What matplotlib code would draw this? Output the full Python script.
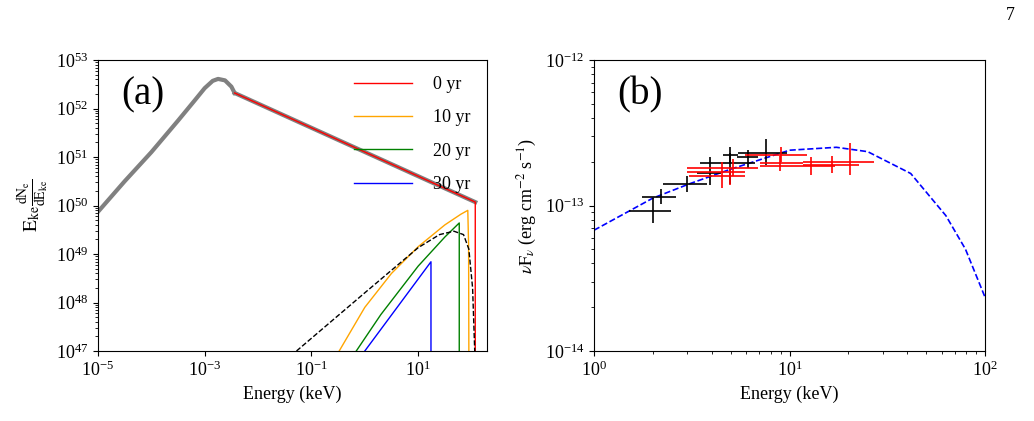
import numpy as np
import matplotlib
matplotlib.use("Agg")
import matplotlib.pyplot as plt

plt.rcParams['font.family'] = ['Liberation Serif', 'DejaVu Serif']
plt.rcParams['mathtext.fontset'] = 'stix'

# Panel (a): log10 energy / log10 value
gray_lx = [-5, -4.5, -4, -3.5, -3.2, -3.0, -2.85, -2.75, -2.62, -2.5, -2.44]
gray_ly = [49.87, 50.5, 51.1, 51.75, 52.15, 52.42, 52.57, 52.61, 52.58, 52.45, 52.32]
yr0_lx = [-2.44, 2.07, 2.07]
yr0_ly = [52.32, 50.07, 47.0]
orange_lx = [-0.48, 0.0, 0.5, 1.0, 1.5, 1.8, 1.93, 1.945, 1.95]
orange_ly = [47.0, 47.9, 48.6, 49.15, 49.6, 49.82, 49.9, 49.2, 47.0]
green_lx = [-0.16, 0.3, 1.0, 1.5, 1.77, 1.77]
green_ly = [47.0, 47.75, 48.75, 49.35, 49.64, 47.0]
blue_lx = [0.0, 1.24, 1.24]
blue_ly = [47.0, 48.84, 47.0]
dash_lx = [-1.28, 0.0, 1.0, 1.4, 1.67, 1.85, 1.95, 2.02, 2.06]
dash_ly = [47.0, 48.2, 49.13, 49.4, 49.47, 49.4, 49.1, 48.3, 47.0]

# Panel (b): model (log10 E, log10 flux)
model_lx = [0.0, 0.3, 0.49, 0.7, 1.0, 1.24, 1.4, 1.62, 1.8, 1.9, 2.0]
model_ly = [-13.17, -12.95, -12.85, -12.75, -12.62, -12.60, -12.63, -12.78, -13.07, -13.3, -13.63]

# data points: x, xlo, xhi, log y, log ylo, log yhi
blk_x = [2.0, 2.19, 2.98, 3.92, 4.96, 4.96, 6.14, 7.59]
blk_xlo = [1.51, 1.76, 2.25, 3.37, 3.48, 4.57, 5.40, 5.45]
blk_xhi = [2.48, 2.63, 3.78, 4.46, 6.66, 5.45, 6.88, 9.7]
blk_ly = [-13.036, -12.94, -12.85, -12.78, -12.71, -12.65, -12.67, -12.64]
blk_lylo = [-13.12, -12.99, -12.91, -12.86, -12.85, -12.71, -12.74, -12.72]
blk_lyhi = [-12.95, -12.89, -12.80, -12.67, -12.64, -12.60, -12.62, -12.54]

rd_x = [4.50, 5.15, 4.96, 8.93, 9.1, 12.9, 16.5, 20.5]
rd_xlo = [2.98, 2.98, 3.05, 7.07, 5.92, 7.07, 11.7, 11.7]
rd_xhi = [5.92, 6.88, 5.92, 11.7, 12.3, 17.0, 22.6, 27.0]
rd_ly = [-12.77, -12.74, -12.80, -12.71, -12.65, -12.73, -12.72, -12.70]
rd_lylo = [-12.88, -12.80, -12.86, -12.76, -12.70, -12.79, -12.78, -12.79]
rd_lyhi = [-12.70, -12.68, -12.74, -12.66, -12.60, -12.67, -12.66, -12.57]

fig = plt.figure(figsize=(10.34, 4.21), dpi=100)
ax1 = fig.add_axes([98/1034, 1-351/421, 389/1034, 291/421])
ax2 = fig.add_axes([594/1034, 1-351/421, 391/1034, 291/421])

p = lambda a: 10**np.array(a)
ax1.plot(p(gray_lx), p(gray_ly), color='gray', lw=3)
ax1.plot(p(yr0_lx[:2]), p(yr0_ly[:2]), color='gray', lw=3)
ax1.plot(p(yr0_lx), p(yr0_ly), color='red', lw=1, label='0 yr')
ax1.plot(p(orange_lx), p(orange_ly), color='orange', lw=1, label='10 yr')
ax1.plot(p(green_lx), p(green_ly), color='green', lw=1, label='20 yr')
ax1.plot(p(blue_lx), p(blue_ly), color='blue', lw=1, label='30 yr')
ax1.plot(p(dash_lx), p(dash_ly), color='black', lw=1, ls='--')
ax1.set_xscale('log'); ax1.set_yscale('log')
ax1.set_xlim(1e-5, 10**2.29); ax1.set_ylim(1e47, 1e53)
ax1.set_xticks([1e-5, 1e-3, 1e-1, 1e1])
ax1.set_yticks([10.0**k for k in range(47, 54)])
ax1.tick_params(labelsize=13)
ax1.set_xlabel('Energy (keV)', fontsize=13)
ax1.set_ylabel(r'$\mathrm{E_{ke}\frac{dN_e}{dE_{ke}}}$', fontsize=14)
ax1.text(0.06, 0.88, '(a)', transform=ax1.transAxes, fontsize=28, va='center')
ax1.legend(loc='upper right', frameon=False, fontsize=13, handlelength=3.2,
           handletextpad=1.2, labelspacing=0.9)

ax2.plot(p(model_lx), p(model_ly), color='blue', ls='--', lw=1.2)
for xs, xlo, xhi, ly, lylo, lyhi, c in [
        (blk_x, blk_xlo, blk_xhi, blk_ly, blk_lylo, blk_lyhi, 'black'),
        (rd_x, rd_xlo, rd_xhi, rd_ly, rd_lylo, rd_lyhi, 'red')]:
    xs = np.array(xs); y = p(ly)
    ax2.errorbar(xs, y, xerr=[xs - np.array(xlo), np.array(xhi) - xs],
                 yerr=[y - p(lylo), p(lyhi) - y], fmt='none', ecolor=c, elinewidth=1.2)
ax2.set_xscale('log'); ax2.set_yscale('log')
ax2.set_xlim(1, 100); ax2.set_ylim(1e-14, 1e-12)
ax2.tick_params(labelsize=13)
ax2.set_xlabel('Energy (keV)', fontsize=13)
ax2.set_ylabel(r'$\nu\mathrm{F}_\nu$ (erg cm$^{-2}$ s$^{-1}$)', fontsize=13)
ax2.text(0.06, 0.88, '(b)', transform=ax2.transAxes, fontsize=28, va='center')

fig.text(1010/1034, 1-15/421, '7', fontsize=13, ha='center', va='center')
fig.savefig('out.png', dpi=100)
